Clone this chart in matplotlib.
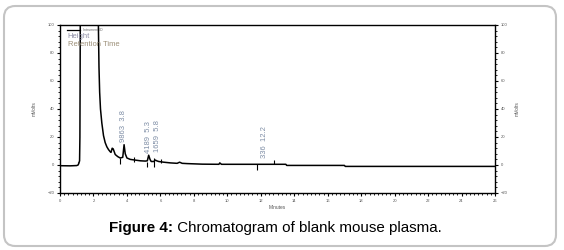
import matplotlib
matplotlib.use("Agg")
import matplotlib.pyplot as plt
from matplotlib.patches import FancyBboxPatch
from matplotlib.ticker import MultipleLocator

# ---- data ----
time_min = [0.0, 0.6, 1.0, 1.08, 1.12, 1.17, 1.19, 1.22, 1.5, 2.0, 2.27, 2.3, 2.33, 2.37,
            2.42, 2.5, 2.6, 2.7, 2.8, 2.9, 3.0, 3.05, 3.12, 3.18, 3.3, 3.45, 3.6,
            3.75, 3.83, 3.9, 4.0, 4.2, 4.5, 4.8, 5.1, 5.22, 5.3, 5.38, 5.45, 5.6,
            5.7, 5.78, 5.9, 6.2, 6.6, 7.0, 7.15, 7.3, 7.6, 8.5, 9.5, 9.55, 9.65,
            13.5, 13.55, 15.2, 17.0, 17.05, 26.0]
signal_mv = [-0.5, -0.6, -0.4, 0.0, 1.0, 3.0, 20.0, 130.0, 130.0, 130.0, 130.0, 95.0, 70.0, 52.0,
             40.0, 30.0, 21.0, 16.0, 13.0, 11.0, 9.5, 9.0, 12.0, 11.5, 7.5, 6.0, 5.0,
             5.5, 14.5, 8.0, 5.0, 4.0, 3.5, 3.0, 2.8, 3.0, 7.0, 4.0, 2.5, 2.5,
             3.5, 3.0, 2.5, 2.0, 1.5, 1.2, 2.0, 1.2, 1.0, 0.6, 0.5, 1.5, 0.5,
             0.5, -0.3, -0.3, -0.3, -1.0, -1.0]

# integration boundary marks: time, lower, upper (mV)
mark_time = [1.09, 3.59, 4.44, 5.18, 5.64, 6.02, 11.75, 12.8]
mark_low = [1.2, 0.7, 2.1, -1.4, -1.4, 1.4, -3.6, 0.7]
mark_high = [2.4, 5.0, 5.7, 2.1, 5.0, 4.3, 0.7, 3.6]

# peak annotations
peak_height = [9863, 4189, 1659, 336]
peak_rt = [3.8, 5.3, 5.8, 12.2]
label_x = [3.8, 5.26, 5.8, 12.25]
label_y = [16.4, 8.6, 9.3, 5.0]

x_ticks = list(range(0, 27, 2))
y_ticks = [-20, 0, 20, 40, 60, 80, 100]

W, H = 564, 250
plt.rcParams['font.family'] = ['Liberation Sans', 'DejaVu Sans']
fig = plt.figure(figsize=(W / 100, H / 100), dpi=100)
fig.patch.set_facecolor("white")

# outer rounded box
box = FancyBboxPatch((4 / W, 4 / H), (556 - 4) / W, (245 - 5) / H,
                     boxstyle="round,pad=0,rounding_size=0.02",
                     transform=fig.transFigure, facecolor="none",
                     edgecolor="#c4c4c4", linewidth=1.5, mutation_aspect=W / H)
fig.patches.append(box)

ax = fig.add_axes([60 / W, 1 - 193 / H, (495 - 60) / W, (193 - 25) / H])
ax.plot(time_min, signal_mv, color="black", lw=1.1, solid_joinstyle="round")
ax.vlines(mark_time, mark_low, mark_high, color="black", lw=0.8)

lab_color = "#7f8ea6"
for h, rt, lx, ly in zip(peak_height, peak_rt, label_x, label_y):
    ax.text(lx, ly, f"{h}  {rt}", rotation=90, ha="center", va="bottom",
            fontsize=5.5, color=lab_color)

ax.set_xlim(0, 26)
ax.set_ylim(-20, 100)
ax.set_xticks(x_ticks)
ax.set_yticks(y_ticks)
ax.xaxis.set_minor_locator(MultipleLocator(0.25))
ax.yaxis.set_minor_locator(MultipleLocator(4))
ax.tick_params(axis="both", which="major", labelsize=3, colors="black",
               labelcolor="#555555", length=2.5, width=0.8, pad=1.5,
               right=True, labelright=True)
ax.tick_params(axis="both", which="minor", length=1.5, width=0.6, right=True)
for s in ax.spines.values():
    s.set_linewidth(1.0)

ax.set_xlabel("Minutes", fontsize=3.5, color="#555555", labelpad=2)
ax.set_ylabel("mVolts", fontsize=3.5, color="#555555", labelpad=8)
fig.text(517 / W, 1 - 109 / H, "mVolts", rotation=90, fontsize=3.5,
         color="#555555", ha="center", va="center")

# legend-like header
ax.plot([0.4, 1.2], [96.5, 96.5], color="black", lw=0.9, clip_on=False)
ax.text(1.4, 96.5, "Intrument ID", fontsize=2.5, color="#666666", va="center")
ax.text(0.45, 91.5, "Height", fontsize=5.5, color="#8f8fa6", va="center")
ax.text(0.45, 86.0, "Retention Time", fontsize=5.5, color="#9c8f78", va="center")

# caption: bold part + regular part, centred together
fig.canvas.draw()
r = fig.canvas.get_renderer()
t1 = fig.text(0, 1 - 228 / H, "Figure 4:", fontsize=10.9, fontweight="bold",
              va="center", ha="left")
t2 = fig.text(0, 1 - 228 / H, " Chromatogram of blank mouse plasma.", fontsize=10.9,
              va="center", ha="left")
w1 = t1.get_window_extent(r).width / (W)
w2 = t2.get_window_extent(r).width / (W)
x0 = (108 + 443) / 2 / W - (w1 + w2) / 2
t1.set_x(x0)
t2.set_x(x0 + w1)

fig.savefig("out.png", dpi=100, facecolor="white")
